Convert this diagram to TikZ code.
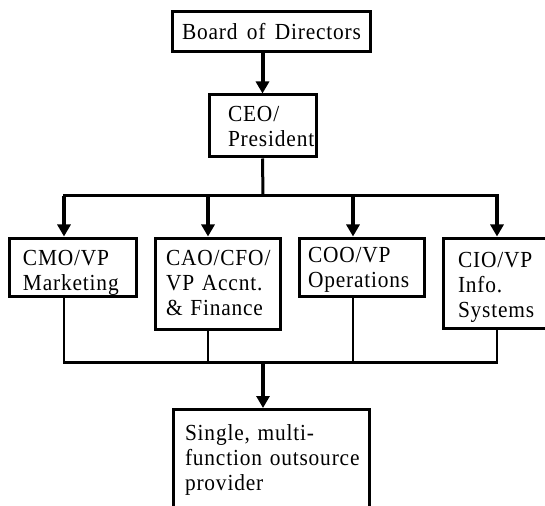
\documentclass[tikz,border=0pt]{standalone}
\usepackage{fontspec}
\setmainfont{Liberation Serif}[LetterSpace=3.6, FakeStretch=0.93, WordSpace=1.5]
\usetikzlibrary{arrows.meta}
\begin{document}
\begin{tikzpicture}[x=1bp,y=-1bp,
  box/.style={draw, line width=3bp, inner sep=0pt, align=left,
    font=\fontsize{23bp}{25bp}\selectfont},
  flow/.style={line width=4bp, -{Triangle[width=13bp,length=12bp]}},
  bus/.style={line width=3bp, line cap=rect},
  stem/.style={line width=3bp},
  feed/.style={line width=2.6bp}]
\useasboundingbox (0,0) rectangle (545,506);
\clip (0,0) rectangle (545,506);

% top of the chart
\node[box, minimum width=198bp, minimum height=40bp,
      text height=27.5bp, text depth=12.5bp] (board) at (271.5,32) {\mbox{Board of Directors}};
\node[box, minimum width=107bp, minimum height=62bp, text width=69bp,
      text height=26.7bp, text depth=35.3bp] (ceo) at (262.5,126) {CEO/\\President};

% the four vice presidents
\node[box, minimum width=126bp, minimum height=58bp, text width=100bp,
      text height=27bp, text depth=31bp] (cmo) at (73,267) {CMO/VP\\Marketing};
\node[box, minimum width=125bp, minimum height=91bp, text width=103bp,
      text height=27.5bp, text depth=63.5bp] (cao) at (217.5,283.5) {CAO/CFO/\\\mbox{VP Accnt.}\\\mbox{\& Finance}};
\node[box, minimum width=125bp, minimum height=58bp, text width=107bp,
      text height=24bp, text depth=34bp] (coo) at (361.5,267) {COO/VP\\Operations};
\node[box, minimum width=117bp, minimum height=90bp, text width=87bp,
      text height=29.5bp, text depth=60.5bp] (cio) at (501.5,283) {CIO/VP\\Info.\\Systems};

% outsourcing provider (runs off the lower edge)
\node[box, minimum width=196bp, minimum height=130bp, text width=172bp,
      text height=30.5bp, text depth=99.5bp] (provider) at (271,474.5)
      {\mbox{Single, multi-}\\\mbox{function outsource}\\provider};

% junction points of the two horizontal buses
\coordinate (busTop) at (263,196);
\coordinate (busBot) at (263,362.5);
\coordinate (colA) at (64,196);
\coordinate (colB) at (208,196);
\coordinate (colC) at (353,196);
\coordinate (colD) at (497,196);

% board to CEO
\draw[flow] (board.south -| ceo.north) -- (ceo.north);

% CEO to the upper bus
\draw[stem] (ceo.south) -- (busTop);
\draw[bus] (colA) -- (colD);
\draw[flow] (colA) -- (colA |- cmo.north);
\draw[flow] (colB) -- (colB |- cao.north);
\draw[flow] (colC) -- (colC |- coo.north);
\draw[flow] (colD) -- (colD |- cio.north);

% lower bus joining the four offices
\draw[feed] (colA |- cmo.south) -- (colA |- busBot) -- (colD |- busBot) -- (colD |- cio.south);
\draw[feed] (colB |- cao.south) -- (colB |- busBot);
\draw[feed] (colC |- coo.south) -- (colC |- busBot);

% lower bus to the provider
\draw[flow] (busBot) -- (busBot |- provider.north);
\end{tikzpicture}
\end{document}
